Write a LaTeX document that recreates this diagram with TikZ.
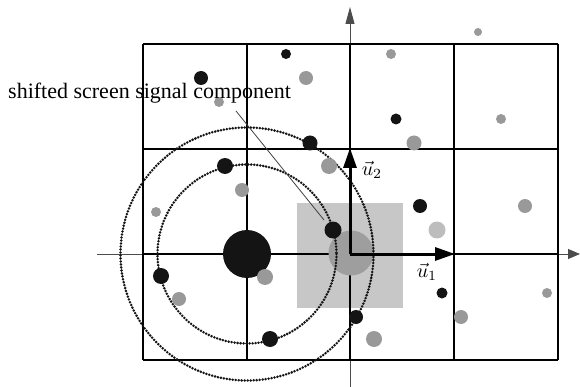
\documentclass[tikz,border=0pt]{standalone}
\usepackage{graphicx}
\usepackage{fontspec}
\setmainfont{Liberation Serif}
\usetikzlibrary{arrows.meta}
\definecolor{dotgray}{gray}{0.6}
\definecolor{lightdot}{gray}{0.74}
\definecolor{sqgray}{gray}{0.78}
\definecolor{diskgray}{gray}{0.62}
\definecolor{blk}{gray}{0.08}
\tikzset{
  gridline/.style={line width=2.2pt, black},
  axisline/.style={line width=0.9pt, black!70},
  ring/.style={line width=2.8pt, blk, line cap=round, dash pattern=on 0pt off 3pt},
  bdot/.style={fill=blk},
  gdot/.style={fill=dotgray},
  vecarrow/.style={line width=3pt, black, -{Triangle[length=20pt,width=13pt]}},
  lbl/.style={font=\fontsize{22}{26}\selectfont, inner sep=0pt},
  veclbl/.style={inner sep=0pt},
}
\begin{document}
\begin{tikzpicture}[x=1pt,y=-1pt]
\useasboundingbox (0,0) rectangle (580,387);
% shifted screen square
\fill[sqgray] (297,203) rectangle (403,308);
% axes (thin)
\draw[axisline, -{Triangle[length=12pt,width=10pt]}] (97,254) -- (580,254);
\draw[axisline, -{Triangle[length=17pt,width=9pt]}] (350,387) -- (350,7);
% grid
\foreach \x in {143,247,350,454,558} \draw[gridline] (\x,44) -- (\x,360);
\foreach \y in {44,149,254,360} \draw[gridline] (143,\y) -- (558,\y);
% shifted big disk
\fill[diskgray] (351,253) circle (22.5);
% dotted rings
\draw[ring] (247,254) circle (126.5);
\draw[ring] (247,254) circle (89.5);
% basis vectors
\coordinate (o) at (350,254);
\coordinate (e1) at (455,254);
\coordinate (e2) at (350,148);
\draw[vecarrow] (o) -- (e1);
\draw[vecarrow] (o) -- (e2);
\node[veclbl] (u1) at (427,272) {\scalebox{2}{$\vec{u}_1$}};
\node[veclbl] (u2) at (372,170) {\scalebox{2}{$\vec{u}_2$}};
% big black dot
\fill[blk] (247,254) circle (24);
% black dots
\foreach \p/\r in {{201,78}/7, {286,54}/5, {310,143}/7.5, {396,119}/5.5, {225,166}/8,
  {161,276}/8, {270,339}/8, {333,230}/8.5, {420,206}/7, {442,293}/5.5, {356,317}/7}
  \fill[bdot] (\p) circle (\r);
% gray dots
\foreach \p/\r in {{219,102}/5, {306,78}/7, {391,54}/5, {478,32}/4, {501,119}/5,
  {414,143}/7.5, {329,166}/8, {242,190}/7, {156,212}/5, {265,277}/8, {179,299}/7,
  {525,206}/7, {547,293}/5, {461,317}/7, {374,339}/8}
  \fill[gdot] (\p) circle (\r);
\fill[lightdot] (437,230) circle (8.5);
% label and leader
\node[lbl, anchor=base west] (lab) at (8,99) {shifted screen signal component};
\coordinate (lead0) at (236,111);
\coordinate (lead1) at (324,220);
\draw[line width=0.8pt, black!75] (lead0) -- (lead1);
\end{tikzpicture}
\end{document}
